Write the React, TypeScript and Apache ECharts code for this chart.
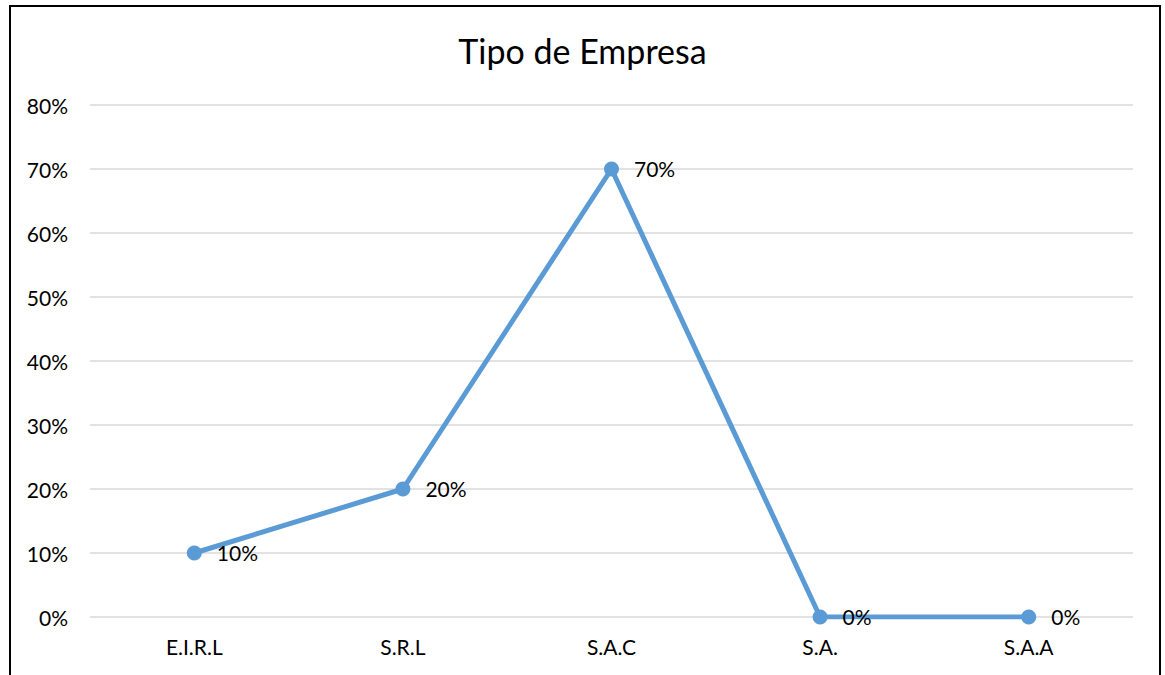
import React, { useEffect, useRef } from "react";
import * as echarts from "echarts";

const categories = ["E.I.R.L", "S.R.L", "S.A.C", "S.A.", "S.A.A"];
const values = [10, 20, 70, 0, 0];
const yTicks = { min: 0, max: 80, interval: 10 };
const titleText = "Tipo de Empresa";

export default function App() {
  const ref = useRef<HTMLDivElement>(null);
  useEffect(() => {
    if (!ref.current) return;
    const chart = echarts.init(ref.current, null, { renderer: "svg" });
    const font = "Lato, 'Open Sans', sans-serif";
    chart.setOption({
      animation: false,
      backgroundColor: "#ffffff",
      title: {
        text: titleText,
        left: "center",
        top: 28,
        textStyle: { fontFamily: font, fontSize: 34, fontWeight: "normal", color: "#000" },
      },
      grid: { left: 90, right: 32, top: 105, bottom: 58, containLabel: false },
      xAxis: {
        type: "category",
        data: categories,
        boundaryGap: true,
        axisLine: { show: false },
        axisTick: { show: false },
        axisLabel: { fontFamily: font, fontSize: 21, color: "#000", margin: 19 },
      },
      yAxis: {
        type: "value",
        min: yTicks.min,
        max: yTicks.max,
        interval: yTicks.interval,
        axisLine: { show: false },
        axisTick: { show: false },
        splitLine: { lineStyle: { color: "#d9d9d9", width: 1.5 } },
        axisLabel: { fontFamily: font, fontSize: 21, color: "#000", margin: 22, formatter: "{value}%" },
      },
      series: [
        {
          type: "line",
          data: values,
          symbol: "circle",
          symbolSize: 15,
          lineStyle: { color: "#5B9BD5", width: 5 },
          itemStyle: { color: "#5B9BD5" },
          label: {
            show: true,
            position: "right",
            distance: 15,
            offset: [0, -1],
            formatter: "{c}%",
            fontFamily: font,
            fontSize: 21,
            color: "#000",
          },
        },
      ],
      graphic: [
        {
          type: "rect",
          shape: { x: 10, y: 6, width: 1150, height: 700 },
          style: { fill: "none", stroke: "#000", lineWidth: 2 },
          silent: true,
        },
      ],
    });
    return () => chart.dispose();
  }, []);
  return (
    <div
      ref={ref}
      style={{ position: "absolute", left: 0, top: 0, width: 1165, height: 675 }}
    />
  );
}
